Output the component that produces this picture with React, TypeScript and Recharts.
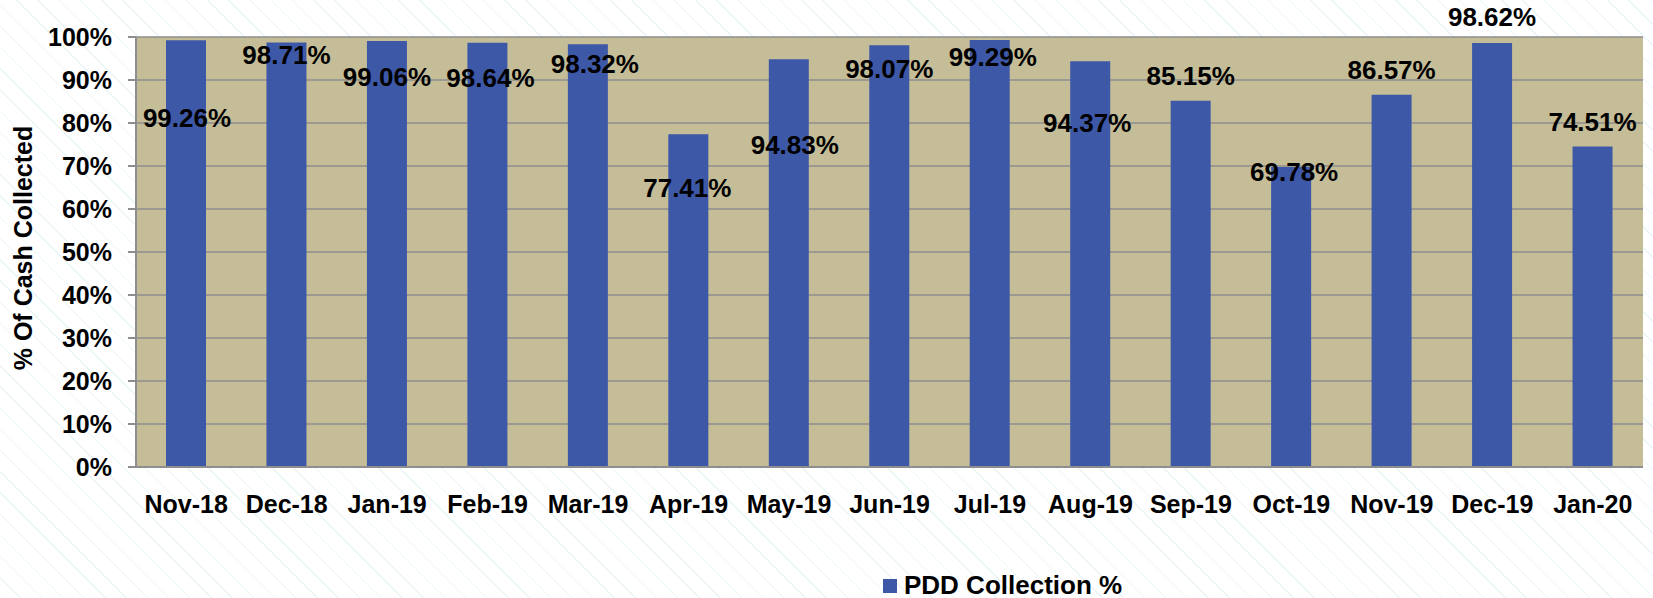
import React from "react";
import { BarChart, Bar, XAxis, YAxis, CartesianGrid, Legend, LabelList, Label } from "recharts";

const months = ["Nov-18", "Dec-18", "Jan-19", "Feb-19", "Mar-19", "Apr-19", "May-19", "Jun-19", "Jul-19", "Aug-19", "Sep-19", "Oct-19", "Nov-19", "Dec-19", "Jan-20"];
const collection = [99.26, 98.71, 99.06, 98.64, 98.32, 77.41, 94.83, 98.07, 99.29, 94.37, 85.15, 69.78, 86.57, 98.62, 74.51];
const yTicks = [0, 10, 20, 30, 40, 50, 60, 70, 80, 90, 100];

// where the data labels sit relative to the bar top (they were dragged around in the original)
const labelDy = [78, 12, 36, 35, 20, 54, 86, 24, 17, 62, -25, 5, -25, -26, -25];
const labelDx = [1, 0, 0, 3, 7, -1, 6, 0, 3, -3, 0, 3, 0, 0, 0];

const data = months.map((m, i) => ({ month: m, pdd: collection[i] }));

const FONT = "'Liberation Sans', Arial, sans-serif";
const BAR = "#3E58A8";
const PLOT = "#C4BD97";
const GRID = "#8E8E8E";

const tickStyle = { fill: "#000", fontSize: 25, fontWeight: 700, fontFamily: FONT };

function YTitle(props: any) {
  const vb = props.viewBox || { y: 37, height: 430 };
  const cx = 23;
  const cy = vb.y + vb.height / 2 - 4;
  return (
    <text x={cx} y={cy} transform={`rotate(-90, ${cx}, ${cy})`} textAnchor="middle" dominantBaseline="central"
      style={{ fontSize: 25, fontWeight: 700, fontFamily: FONT, fill: "#000" }}>
      % Of Cash Collected
    </text>
  );
}

function ValueLabel(props: any) {
  const { x, y, width, value } = props;
  let i = props.index;
  if (i === undefined || i === null) i = collection.indexOf(value);
  return (
    <text x={x + width / 2 + (labelDx[i] || 0)} y={y + (labelDy[i] || 0)} textAnchor="middle" dominantBaseline="central"
      style={{ fontSize: 26, fontWeight: 700, fontFamily: FONT, fill: "#000" }}>
      {value.toFixed(2)}%
    </text>
  );
}

function LegendBox() {
  return (
    <div style={{ display: "flex", alignItems: "center", fontFamily: FONT, fontWeight: 700, fontSize: 26, color: "#000", whiteSpace: "nowrap" }}>
      <span style={{ width: 14, height: 14, background: BAR, display: "inline-block", marginRight: 7 }} />
      <span>PDD Collection %</span>
    </div>
  );
}

export default function App() {
  return (
    <div style={{
      position: "absolute", left: 0, top: 0, width: 1653, height: 598,
      background: "repeating-linear-gradient(45deg, #ffffff 0px, #ffffff 14px, #eaf6f6 14px, #eaf6f6 15px)",
    }}>
      <BarChart width={1653} height={598} data={data} margin={{ top: 37, right: 10, left: 0, bottom: 0 }} barCategoryGap={0}>
        <CartesianGrid vertical={false} stroke={GRID} strokeWidth={1.5} fill={PLOT} fillOpacity={1} />
        <XAxis dataKey="month" interval={0} tickLine={false} axisLine={{ stroke: GRID, strokeWidth: 2 }}
          tick={tickStyle} tickMargin={22} height={131} />
        <YAxis domain={[0, 100]} ticks={yTicks} tickFormatter={(v) => `${v}%`} width={136}
          axisLine={{ stroke: GRID, strokeWidth: 2 }} tickLine={{ stroke: GRID, strokeWidth: 2 }} tickSize={8} tickMargin={16}
          tick={tickStyle} interval={0}>
          <Label content={<YTitle />} />
        </YAxis>
        <Legend layout="horizontal" verticalAlign="middle" align="center" content={<LegendBox />}
          wrapperStyle={{ left: 883, top: 570, width: "auto", bottom: "auto" }} />
        <Bar dataKey="pdd" name="PDD Collection %" fill={BAR} barSize={40} isAnimationActive={false}>
          <LabelList dataKey="pdd" content={<ValueLabel />} />
        </Bar>
      </BarChart>
    </div>
  );
}
